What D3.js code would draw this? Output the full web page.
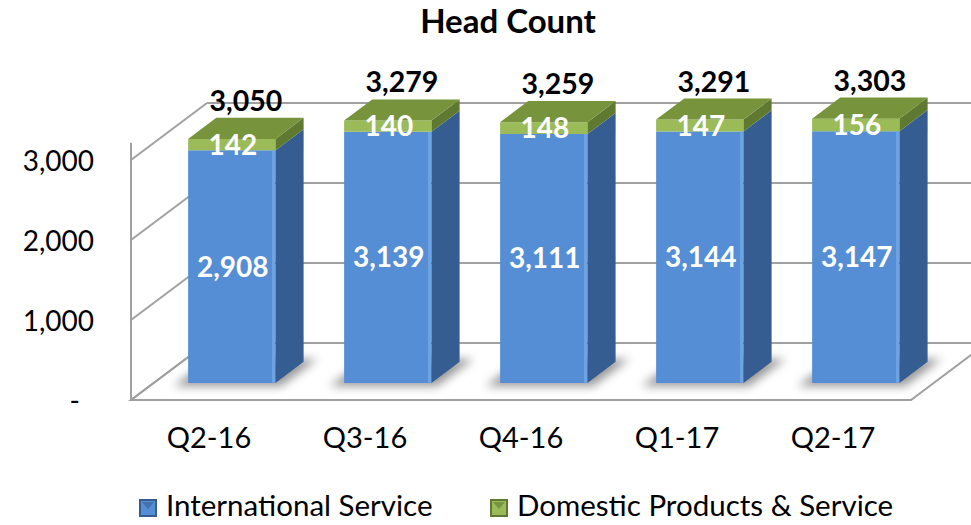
<!DOCTYPE html>
<html>
<head>
<meta charset="utf-8">
<script src="https://cdn.jsdelivr.net/npm/d3@7"></script>
<style>
  body { margin: 0; background: #fff; }
  text { font-family: Lato, "Open Sans", sans-serif; }
</style>
</head>
<body>
<div id="chart"></div>
<script>
/* 3D stacked column chart: head count per quarter */

const categories = ["Q2-16", "Q3-16", "Q4-16", "Q1-17", "Q2-17"];
const international = [2908, 3139, 3111, 3144, 3147];
const domestic = [142, 140, 148, 147, 156];
const totals = [3050, 3279, 3259, 3291, 3303];
const yTicks = [0, 1000, 2000, 3000];
const seriesNames = ["International Service", "Domestic Products & Service"];

const width = 971, height = 525;
const margin = {top: 160, right: 60, bottom: 125, left: 131};
const depth = {dx: 76, dy: 57};      // offset from front plane to back wall
const barDepth = [0.3, 0.67];        // bar front / back as fraction of depth
const wallTop = 3215;

const colors = {
  front: ["#558ed5", "#9bbb59"],
  side: ["#365d91", "#5f7a30"],
  top: "#77933c",
  grid: "#a0a0a0"
};

const rows = categories.map((c, i) => ({cat: c, International: international[i], Domestic: domestic[i], total: totals[i]}));
const stack = d3.stack().keys(["International", "Domestic"])(rows);

const svg = d3.select("#chart")
  .append("svg")
  .attr("width", width)
  .attr("height", height)
  .attr("viewBox", [0, 0, width, height]);

const x = d3.scaleBand()
  .domain(categories)
  .range([margin.left, width - margin.right])
  .paddingInner(0.44)
  .paddingOuter(0.22);

const xCat = d3.scaleBand()
  .domain(categories)
  .range([margin.left, width - margin.right]);

const y = d3.scaleLinear()
  .domain([0, 3000])
  .range([height - margin.bottom, margin.top]);

// project a point (px on front plane, value, depth fraction) to screen
const P = (px, v, d) => [px + depth.dx * d, y(v) - depth.dy * d];
const poly = pts => pts.map(p => p.join(",")).join(" ");

const defs = svg.append("defs");
defs.append("filter").attr("id", "blur")
  .attr("x", "-50%").attr("y", "-50%").attr("width", "200%").attr("height", "200%")
  .append("feGaussianBlur").attr("stdDeviation", 5);

// floor
const x0 = margin.left, x1 = width - margin.right;
svg.append("polygon")
  .attr("points", poly([P(x0, 0, 0), P(x1, 0, 0), P(x1, 0, 1), P(x0, 0, 1)]))
  .attr("fill", "#fff")
  .attr("stroke", colors.grid)
  .attr("stroke-width", 2);

// back wall gridlines + left wall diagonals
const grid = svg.append("g").attr("stroke", colors.grid).attr("stroke-width", 2).attr("fill", "none");
grid.selectAll(".back")
  .data(yTicks)
  .join("line")
  .attr("x1", d => P(x0, d, 1)[0]).attr("y1", d => P(x0, d, 1)[1])
  .attr("x2", d => P(x1, d, 1)[0]).attr("y2", d => P(x1, d, 1)[1]);
grid.selectAll(".side")
  .data(yTicks)
  .join("line")
  .attr("x1", d => P(x0, d, 0)[0]).attr("y1", d => P(x0, d, 0)[1])
  .attr("x2", d => P(x0, d, 1)[0]).attr("y2", d => P(x0, d, 1)[1]);
grid.append("line")
  .attr("x1", x0).attr("y1", y(0))
  .attr("x2", x0).attr("y2", y(wallTop));

// floor shadows
svg.append("g")
  .selectAll("polygon")
  .data(rows)
  .join("polygon")
  .attr("points", d => {
    const a = x(d.cat) - 10, b = x(d.cat) + x.bandwidth() + 10;
    return poly([P(a, 0, barDepth[0] - 0.06), P(b, 0, barDepth[0] - 0.06),
                 P(b, 0, barDepth[1] + 0.05), P(a, 0, barDepth[1] + 0.05)]);
  })
  .attr("fill", "#7f7f7f")
  .attr("opacity", 0.8)
  .attr("filter", "url(#blur)");

// bars
const [d0, d1] = barDepth;
const bars = svg.append("g");
rows.forEach((r, i) => {
  const a = x(r.cat), b = x(r.cat) + x.bandwidth();
  const g = bars.append("g").attr("class", "bar");
  stack.forEach((layer, k) => {
    const [v0, v1] = layer[i];
    g.append("polygon")
      .attr("points", poly([P(a, v0, d0), P(b, v0, d0), P(b, v1, d0), P(a, v1, d0)]))
      .attr("fill", colors.front[k]);
    g.append("polygon")
      .attr("points", poly([P(b, v0, d0), P(b, v0, d1), P(b, v1, d1), P(b, v1, d0)]))
      .attr("fill", colors.side[k]);
    if (k === 0) {
      g.append("line")
        .attr("x1", P(b - 2, v0, d0)[0]).attr("y1", P(b, v0, d0)[1])
        .attr("x2", P(b - 2, v1, d0)[0]).attr("y2", P(b, v1, d0)[1])
        .attr("stroke", "#6da2e3").attr("stroke-width", 3);
    }
  });
  const vt = stack[stack.length - 1][i][1];
  g.append("polygon")
    .attr("points", poly([P(a, vt, d0), P(b, vt, d0), P(b, vt, d1), P(a, vt, d1)]))
    .attr("fill", colors.top);
});

// segment labels
const fmt = d3.format(",");
stack.forEach((layer, k) => {
  svg.append("g")
    .selectAll("text")
    .data(layer)
    .join("text")
    .attr("x", d => P(x(d.data.cat) + x.bandwidth() / 2, 0, d0)[0] + 1)
    .attr("y", d => P(0, (d[0] + d[1]) / 2, d0)[1] + 10)
    .attr("text-anchor", "middle")
    .attr("fill", "#fff")
    .attr("font-weight", "bold")
    .attr("font-size", 28)
    .text(d => fmt(d[1] - d[0]));
});

// total labels
svg.append("g")
  .selectAll("text")
  .data(rows)
  .join("text")
  .attr("x", d => P(x(d.cat) + x.bandwidth() / 2, 0, (d0 + d1) / 2)[0])
  .attr("y", d => P(0, d.total, d1)[1] - 7)
  .attr("text-anchor", "middle")
  .attr("font-weight", "bold")
  .attr("font-size", 28.5)
  .attr("fill", "#000")
  .text(d => fmt(d.total));

// y axis labels
const yAxis = g => g
  .attr("transform", `translate(${margin.left - 37},2)`)
  .call(d3.axisLeft(y).tickValues(yTicks).tickSize(0).tickPadding(0)
    .tickFormat(d => d === 0 ? "-" : fmt(d)))
  .call(g => g.select(".domain").remove())
  .call(g => g.selectAll("text")
    .attr("font-size", 28)
    .attr("font-family", "Lato")
    .attr("fill", "#000")
    .attr("dx", d => d === 0 ? -14 : 0));
svg.append("g").call(yAxis);

// x axis labels
const xAxis = g => g
  .attr("transform", `translate(0,${y(0)})`)
  .call(d3.axisBottom(xCat).tickSize(0).tickPadding(27))
  .call(g => g.select(".domain").remove())
  .call(g => g.selectAll("text")
    .attr("font-size", 29)
    .attr("font-family", "Lato")
    .attr("fill", "#000"));
svg.append("g").call(xAxis);

// title
svg.append("text")
  .attr("x", 508)
  .attr("y", 33)
  .attr("text-anchor", "middle")
  .attr("font-weight", "bold")
  .attr("font-size", 33)
  .text("Head Count");

// legend
const legendX = [140, 491];
const legend = svg.append("g")
  .selectAll("g")
  .data(seriesNames)
  .join("g")
  .attr("transform", (d, i) => `translate(${legendX[i]},500)`);
legend.append("rect")
  .attr("width", 16).attr("height", 16)
  .attr("fill", (d, i) => colors.front[i])
  .attr("stroke", (d, i) => colors.side[i])
  .attr("stroke-width", 2);
legend.append("polygon")
  .attr("points", "2,2 14,2 8,9")
  .attr("fill", (d, i) => colors.side[i])
  .attr("opacity", 0.6);
legend.append("text")
  .attr("x", 26)
  .attr("y", 16)
  .attr("font-size", 29.5)
  .attr("fill", "#000")
  .text(d => d);
</script>
</body>
</html>
